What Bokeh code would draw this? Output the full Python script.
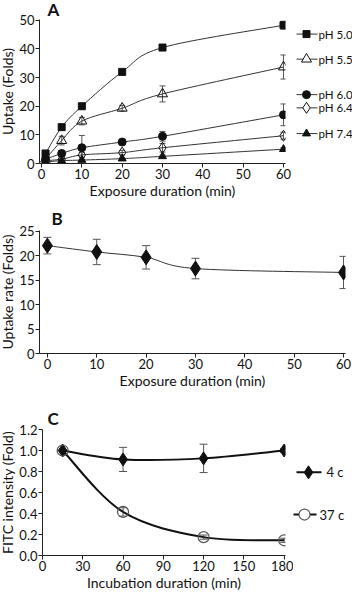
from bokeh.plotting import figure
from bokeh.layouts import column, row
from bokeh.models import Range1d, Whisker, ColumnDataSource, TeeHead, FixedTicker, NumeralTickFormatter
from bokeh.embed import file_html
from bokeh.resources import INLINE
from bokeh.core.properties import value

# ---------------- data ----------------
a_time = [1, 5, 10, 20, 30, 60]
a_ph50 = [3.5, 12.7, 20.0, 32.0, 40.5, 48.3]
a_ph50_err = [0.3, 0.4, 0.5, 0.5, 0.5, 1.4]
a_ph55 = [1.5, 8.0, 14.8, 19.3, 24.3, 33.7]
a_ph55_err = [0.3, 1.5, 1.3, 1.0, 2.8, 4.2]
a_ph60 = [1.5, 3.5, 5.5, 7.5, 9.5, 17.0]
a_ph60_err = [0.3, 1.0, 4.3, 1.0, 1.7, 3.8]
a_ph64 = [1.0, 1.5, 3.0, 3.8, 5.5, 9.7]
a_ph64_err = [0.2, 0.4, 0.8, 0.8, 1.5, 1.2]
a_ph74 = [0.5, 1.0, 1.2, 1.7, 2.5, 5.0]
a_ph74_err = [0.1, 0.2, 0.3, 0.3, 0.4, 0.5]
a_names = ["pH 5.0", "pH 5.5", "pH 6.0", "pH 6.4", "pH 7.4"]

b_time = [0, 10, 20, 30, 60]
b_rate = [22.1, 20.8, 19.7, 17.4, 16.6]
b_err = [1.7, 2.6, 2.4, 2.1, 3.3]

c_time = [15, 60, 120, 180]
c_4c = [1.0, 0.915, 0.925, 1.0]
c_4c_err = [0.0, 0.115, 0.135, 0.02]
c_37c = [1.0, 0.415, 0.175, 0.145]
c_37c_err = [0.0, 0.04, 0.02, 0.02]
c_names = ["4 c", "37 c"]

FONT = "Lato"
TICK_PX = "13px"
LAB_PX = "14px"


def style(p, label, offset, standoff, lh=0.8):
    p.background_fill_color = "white"
    p.border_fill_color = "white"
    p.outline_line_color = None
    p.xgrid.visible = False
    p.ygrid.visible = False
    p.title.text = label
    p.title.text_font = FONT
    p.title.text_font_size = "17px"
    p.title.text_font_style = "bold"
    p.title.text_color = "#111"
    p.title.align = "left"
    p.title.offset = offset
    p.title.standoff = standoff
    p.title.text_line_height = lh
    for ax in (p.xaxis[0], p.yaxis[0]):
        ax.axis_line_color = "#222"
        ax.major_tick_line_color = "#222"
        ax.minor_tick_line_color = None
        ax.major_tick_in = 0
        ax.major_tick_out = 4
        ax.major_label_text_font = FONT
        ax.major_label_text_font_size = TICK_PX
        ax.major_label_text_color = "#111"
        ax.major_label_text_line_height = 1.0
        ax.axis_label_text_font = FONT
        ax.axis_label_text_font_size = LAB_PX
        ax.axis_label_text_font_style = "normal"
        ax.axis_label_text_color = "#111"
        ax.axis_label_text_line_height = 1.0
        ax.major_label_standoff = 1
        ax.axis_label_standoff = 0


def smooth(p, xs, ys, **kw):
    n = len(xs)
    x0s, y0s, x1s, y1s, cx0, cy0, cx1, cy1 = [], [], [], [], [], [], [], []
    for i in range(n - 1):
        pm = (xs[max(i - 1, 0)], ys[max(i - 1, 0)])
        p0 = (xs[i], ys[i])
        p1 = (xs[i + 1], ys[i + 1])
        p2 = (xs[min(i + 2, n - 1)], ys[min(i + 2, n - 1)])
        x0s.append(p0[0]); y0s.append(p0[1])
        x1s.append(p1[0]); y1s.append(p1[1])
        cx0.append(p0[0] + (p1[0] - pm[0]) / 6.0)
        cy0.append(p0[1] + (p1[1] - pm[1]) / 6.0)
        cx1.append(p1[0] - (p2[0] - p0[0]) / 6.0)
        cy1.append(p1[1] - (p2[1] - p0[1]) / 6.0)
    p.bezier(x0=x0s, y0=y0s, x1=x1s, y1=y1s, cx0=cx0, cy0=cy0, cx1=cx1, cy1=cy1, **kw)


def errbars(p, xs, ys, es, color="#555", width=1, size=7):
    src = ColumnDataSource(dict(x=xs, up=[y + e for y, e in zip(ys, es)],
                                lo=[y - e for y, e in zip(ys, es)]))
    w = Whisker(base="x", upper="up", lower="lo", source=src, dimension="height",
                line_color=color, line_width=width,
                upper_head=TeeHead(size=size, line_color=color, line_width=width),
                lower_head=TeeHead(size=size, line_color=color, line_width=width))
    p.add_layout(w)


def legend_fig(h):
    f = figure(width=59, height=h, output_backend="svg", toolbar_location=None,
               x_range=Range1d(297, 356), y_range=Range1d(h, 0),
               min_border=0, x_axis_type=None, y_axis_type=None)
    f.outline_line_color = None
    f.xgrid.visible = False
    f.ygrid.visible = False
    return f

# ---------------- panel A ----------------
HA = 207
pA = figure(width=297, height=HA, output_backend="svg", toolbar_location=None,
            x_range=Range1d(-0.5, 60.5), y_range=Range1d(0, 50.3),
            min_border_left=40, min_border_right=8, min_border_top=15,
            min_border_bottom=40)
style(pA, "A", 8, 0, lh=0.5)
pA.xaxis.ticker = FixedTicker(ticks=[0, 10, 20, 30, 40, 50, 60])
pA.yaxis.ticker = FixedTicker(ticks=[0, 10, 20, 30, 40, 50])
pA.xaxis.axis_label = "Exposure duration (min)"
pA.yaxis.axis_label = "Uptake (Folds)"

series = [
    (a_ph50, a_ph50_err, "square", 7, "#111", 1.0),
    (a_ph55, a_ph55_err, "triangle", 10, "#111", 0.0),
    (a_ph60, a_ph60_err, "circle", 8, "#111", 1.0),
    (a_ph64, a_ph64_err, "diamond", 11, "#111", 0.0),
    (a_ph74, a_ph74_err, "triangle", 8, "#111", 1.0),
]
for ys, es, mk, sz, col, fa in series:
    smooth(pA, a_time, ys, line_color="#333", line_width=1)
    errbars(pA, a_time, ys, es, color="#555", size=6)
    pA.scatter(a_time, ys, marker=mk, size=sz, line_color=col, fill_color=col,
               fill_alpha=fa, line_width=1)

# legend panel A (screen-pixel coordinates)
legA_y = [21, 57, 108, 127, 164]
legA = legend_fig(HA)
for (ys, es, mk, sz, col, fa), name, yy in zip(series, a_names, legA_y):
    legA.segment(x0=[300], y0=[yy], x1=[321], y1=[yy], line_color="#333", line_width=1)
    legA.scatter([310], [yy], marker=mk, size=sz, line_color=col,
                 fill_color="white" if fa == 0 else col, line_width=1)
    legA.text([322], [yy], text=[name], text_font=value(FONT), text_font_size="11.5px",
              text_baseline="middle", text_align="left", text_color="#111")

# ---------------- panel B ----------------
HB = 190
pB = figure(width=356, height=HB, output_backend="svg", toolbar_location=None,
            x_range=Range1d(-1.6, 60.4), y_range=Range1d(0, 25.2),
            min_border_left=37, min_border_right=7, min_border_top=26,
            min_border_bottom=40)
style(pB, "B", 12, 4)
pB.xaxis.ticker = FixedTicker(ticks=[0, 10, 20, 30, 40, 50, 60])
pB.yaxis.ticker = FixedTicker(ticks=[0, 5, 10, 15, 20, 25])
pB.xaxis.axis_label = "Exposure duration (min)"
pB.yaxis.axis_label = "Uptake rate (Folds)"
smooth(pB, b_time, b_rate, line_color="#333", line_width=1)
errbars(pB, b_time, b_rate, b_err, color="#555", size=8)
pB.scatter(b_time, b_rate, marker="diamond", size=15, line_color="#111", fill_color="#111")

# ---------------- panel C ----------------
HC = 200
pC = figure(width=297, height=HC, output_backend="svg", toolbar_location=None,
            x_range=Range1d(0, 181), y_range=Range1d(0, 1.2),
            min_border_left=43, min_border_right=8, min_border_top=36,
            min_border_bottom=37)
style(pC, "C", 5, 2)
pC.xaxis.ticker = FixedTicker(ticks=[0, 30, 60, 90, 120, 150, 180])
pC.yaxis.ticker = FixedTicker(ticks=[0, 0.2, 0.4, 0.6, 0.8, 1.0, 1.2])
pC.yaxis.formatter = NumeralTickFormatter(format="0.0")
pC.xaxis.axis_label = "Incubation duration (min)"
pC.yaxis.axis_label = "FITC intensity (Fold)"
smooth(pC, c_time, c_4c, line_color="#111", line_width=2)
smooth(pC, c_time, c_37c, line_color="#111", line_width=2)
errbars(pC, c_time, c_4c, c_4c_err, color="#555", size=8)
errbars(pC, c_time, c_37c, c_37c_err, color="#555", size=8)
pC.scatter(c_time, c_4c, marker="diamond", size=13, line_color="#111", fill_color="#111")
pC.scatter(c_time, c_37c, marker="circle", size=11, line_color="#555", fill_alpha=0, line_width=1.2)

legC_y = [68, 135]
legC = legend_fig(HC)
legC.segment(x0=[300], y0=[legC_y[0]], x1=[325], y1=[legC_y[0]], line_color="#111", line_width=2)
legC.scatter([312], [legC_y[0]], marker="diamond", size=13, line_color="#111", fill_color="#111")
legC.text([330], [legC_y[0]], text=[c_names[0]], text_font=value(FONT), text_font_size="13px",
          text_baseline="middle", text_align="left", text_color="#111")
legC.segment(x0=[295], y0=[legC_y[1]], x1=[320], y1=[legC_y[1]], line_color="#111", line_width=2)
legC.scatter([308], [legC_y[1]], marker="circle", size=11, line_color="#555", fill_color="white", line_width=1.2)
legC.text([323], [legC_y[1]], text=[c_names[1]], text_font=value(FONT), text_font_size="13px",
          text_baseline="middle", text_align="left", text_color="#111")

layout = column(row(pA, legA, spacing=0), pB, row(pC, legC, spacing=0), spacing=0,
                styles={"margin": "-4px"})
open("out.html", "w").write(file_html(layout, INLINE))
